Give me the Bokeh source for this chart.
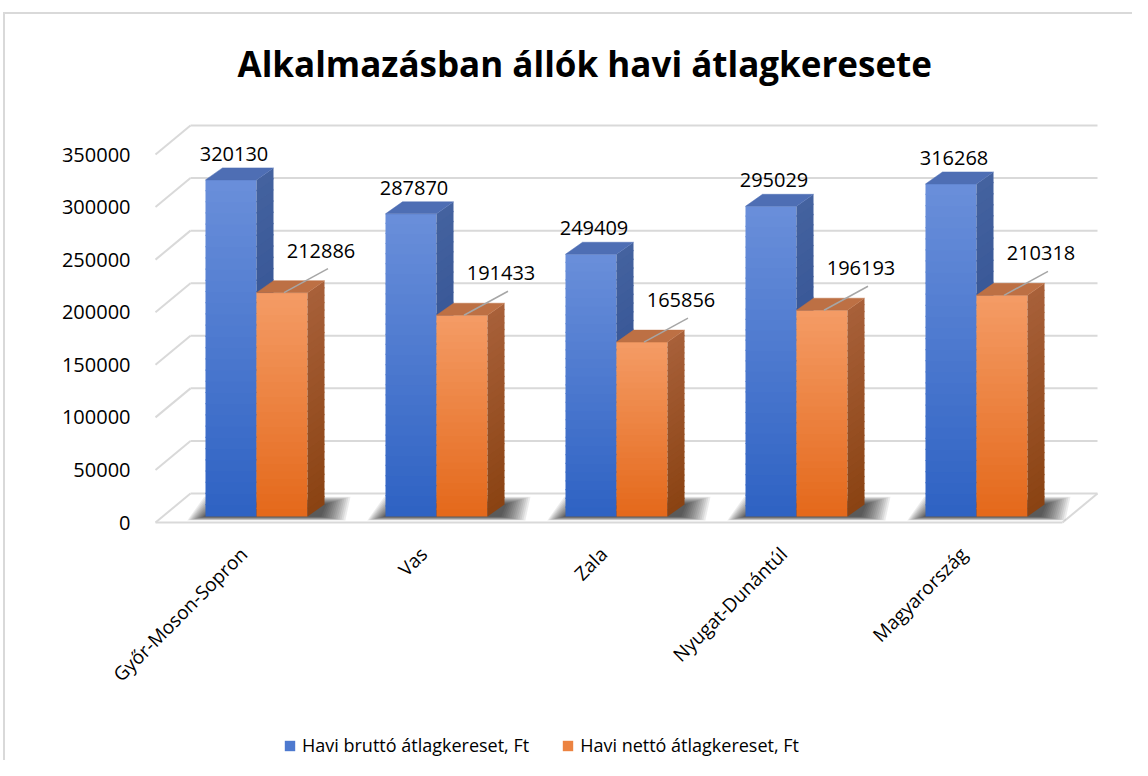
import math
from bokeh.plotting import figure
from bokeh.models import Range1d, Legend, LegendItem, ColumnDataSource
from bokeh.embed import file_html
from bokeh.resources import INLINE

# ---------------- data ----------------
categories = ["Győr-Moson-Sopron", "Vas", "Zala", "Nyugat-Dunántúl", "Magyarország"]
brutto = [320130, 287870, 249409, 295029, 316268]
netto = [212886, 191433, 165856, 196193, 210318]
series_names = ["Havi bruttó átlagkereset, Ft", "Havi nettó átlagkereset, Ft"]
y_ticks = [0, 50000, 100000, 150000, 200000, 250000, 300000, 350000]
y_tick_labels = ["0", "50000", "100000", "150000", "200000", "250000", "300000", "350000"]
title_text = "Alkalmazásban állók havi átlagkeresete"

# ---------------- geometry ----------------
W, H = 1132, 760
FL, FR, FT, FB = 0, 1132, 100, 758            # frame edges (figure px)
PXY = 368.0 / 350000.0                        # px per value unit
U = 1.0 / PXY                                 # value units per px
Y0 = 522                                      # figure px of value 0 (front plane)
SX = 180.0                                    # px per category
CX0 = 256                                     # figure px of category 0 centre
x_start = -(CX0 - FL) / SX
x_end = x_start + (FR - FL) / SX
y_start = -(FB - Y0) * U
y_end = (Y0 - FT) * U

BW = 51 / SX          # bar width
DX = 17 / SX          # depth offset x
DY = 12 * U           # depth offset y
BASE = 6 * U          # bars stand slightly behind the front plane
WX, WY = 35 / SX, 29 * U   # back wall offset


def px_x(px):
    return x_start + (px - FL) / SX


def hex2rgb(h):
    h = h.lstrip("#")
    return tuple(int(h[i:i + 2], 16) for i in (0, 2, 4))


def mix(c1, c2, t):
    a, b = hex2rgb(c1), hex2rgb(c2)
    return "#%02x%02x%02x" % tuple(int(round(a[i] + (b[i] - a[i]) * t)) for i in range(3))


p = figure(width=W, height=H, output_backend="svg", toolbar_location=None,
           x_range=Range1d(x_start, x_end), y_range=Range1d(y_start, y_end),
           min_border_left=FL, min_border_right=W - FR, min_border_top=FT, min_border_bottom=H - FB)
p.outline_line_color = None
p.xgrid.visible = False
p.ygrid.visible = False
p.xaxis.visible = False
p.yaxis.visible = False
p.border_fill_alpha = 0
p.background_fill_alpha = 0
p.styles = {
    "background": "linear-gradient(#D9D9D9, #D9D9D9) 3px 12px / 1200px 2px no-repeat, "
                  "linear-gradient(#D9D9D9, #D9D9D9) 3px 12px / 2px 900px no-repeat, #ffffff",
}

p.title.text = title_text
p.title.align = "left"
p.title.offset = 237
p.title.text_font = "Open Sans"
p.title.text_font_style = "bold"
p.title.text_font_size = "35px"
p.title.text_color = "#000000"
p.title.standoff = 28

grid_col = "#D9D9D9"
xl = px_x(155)
xr_front = px_x(1062)
xr_back = xr_front + WX
# back wall gridlines
p.segment(x0=[xl + WX] * len(y_ticks), x1=[xr_back] * len(y_ticks),
          y0=[v + WY for v in y_ticks], y1=[v + WY for v in y_ticks],
          line_color=grid_col, line_width=2)
# side wall diagonals
p.segment(x0=[xl] * len(y_ticks), x1=[xl + WX] * len(y_ticks),
          y0=y_ticks, y1=[v + WY for v in y_ticks], line_color=grid_col, line_width=2)
# floor front edge and right edge
p.segment(x0=[xl, xr_front], x1=[xr_front, xr_back], y0=[0, 0], y1=[0, WY],
          line_color=grid_col, line_width=2)

# y tick labels (front plane)
p.text(x=[px_x(130)] * len(y_ticks), y=y_ticks, text=y_tick_labels,
       text_align="right", text_baseline="middle", text_font_size="20px",
       text_color="#000000", text_font={"value": "Open Sans"})

# soft shadows on the floor
for e in range(26, 0, -2):
    xs, ys = [], []
    for i in range(len(categories)):
        x0 = i - BW - e / SX * 0.7
        x1 = i + BW + DX + e / SX
        y0 = BASE - e * 0.15 * U
        y1 = BASE + DY + e * 0.3 * U
        xs.append([x0, x1 - DX * 0.3, x1, x0 + DX])
        ys.append([y0, y0, y1, y1])
    p.patches(xs, ys, fill_color="#000000", fill_alpha=0.075, line_color=None)

styles = [
    # front top, front bottom, side top, side bottom, top face
    ("#6A8FDA", "#2E62C3", "#44629F", "#26458A", "#4E6EB4"),
    ("#F49C66", "#E4681A", "#A8613A", "#8A4212", "#BD7044"),
]
N = 30
OV = 1.2 * U   # slight overlap between gradient slices
front_renderers = []
for s, (vals, offset) in enumerate([(brutto, -BW), (netto, 0.0)]):
    ftop, fbot, stop_, sbot, tface = styles[s]
    xs_, bots, tops, cols = [], [], [], []
    sxs, sys_, scols = [], [], []
    for i, v in enumerate(vals):
        xc = i + offset + BW / 2
        for k in range(N):
            b = BASE + v * k / N
            t = BASE + v * (k + 1) / N
            tt = t + (OV if k < N - 1 else 0)
            frac = (k + 0.5) / N
            xs_.append(xc)
            bots.append(b)
            tops.append(tt)
            cols.append(mix(fbot, ftop, frac))
            xr = i + offset + BW
            sxs.append([xr, xr + DX, xr + DX, xr])
            sys_.append([b, b + DY, tt + DY, tt])
            scols.append(mix(sbot, stop_, frac))
    src = ColumnDataSource(dict(x=xs_, bottom=bots, top=tops, color=cols))
    r = p.vbar(x="x", bottom="bottom", top="top", width=BW, source=src,
               fill_color="color", line_color=None)
    front_renderers.append(r)
    ssrc = ColumnDataSource(dict(xs=sxs, ys=sys_, color=scols))
    p.patches(xs="xs", ys="ys", source=ssrc, fill_color="color", line_color=None)
    # top faces
    txs, tys = [], []
    for i, v in enumerate(vals):
        x0 = i + offset
        t = BASE + v
        txs.append([x0, x0 + BW, x0 + BW + DX, x0 + DX])
        tys.append([t, t, t + DY, t + DY])
    p.patches(txs, tys, fill_color=tface, line_color=tface, line_width=0.5)

# data labels
lab_font = "Open Sans"
lab_size = "20px"
p.text(x=[i - BW / 2 + 3 / SX for i in range(len(categories))],
       y=[BASE + v + 26 * U for v in brutto],
       text=[str(v) for v in brutto], text_align="center", text_baseline="middle",
       text_font_size=lab_size, text_color="#000000",
       text_font={"value": lab_font})
p.segment(x0=[i + BW / 2 + 2 / SX for i in range(len(categories))],
          y0=[BASE + v for v in netto],
          x1=[i + BW / 2 + 46 / SX for i in range(len(categories))],
          y1=[BASE + v + 24 * U for v in netto],
          line_color="#A6A6A6", line_width=1.5)
p.text(x=[i + BW / 2 + 39 / SX for i in range(len(categories))],
       y=[BASE + v + 42 * U for v in netto],
       text=[str(v) for v in netto], text_align="center", text_baseline="middle",
       text_font_size=lab_size, text_color="#000000",
       text_font={"value": lab_font})

# category labels (rotated, along the front floor edge)
p.text(x=[i - 22 / SX for i in range(len(categories))],
       y=[-19 * U] * len(categories),
       text=categories, angle=math.pi / 4, text_align="right", text_baseline="top",
       text_font_size="19px", text_color="#000000", text_font={"value": lab_font})

legend = Legend(items=[LegendItem(label=series_names[0], renderers=[front_renderers[0]], index=N // 2),
                       LegendItem(label=series_names[1], renderers=[front_renderers[1]], index=N // 2)],
                orientation="horizontal", location=(283, 1),
                glyph_width=13, glyph_height=13, label_standoff=6, spacing=32, padding=0,
                label_text_font="Open Sans", label_text_font_size="18px", label_text_color="#000000",
                border_line_color=None, background_fill_alpha=0, margin=0)
p.add_layout(legend, "center")

open("out.html", "w").write(file_html(p, INLINE))
